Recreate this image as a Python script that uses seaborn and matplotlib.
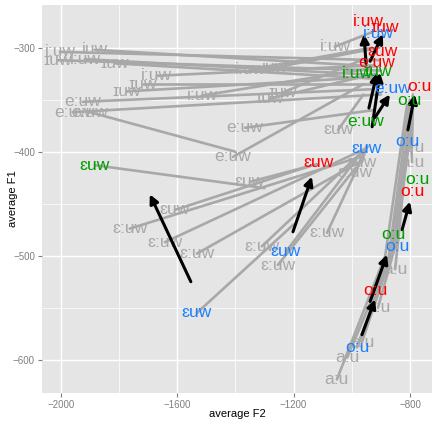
import numpy as np
import pandas as pd
import matplotlib
matplotlib.use("Agg")
import matplotlib.pyplot as plt
from matplotlib.ticker import MultipleLocator
import seaborn as sns

nan = np.nan

# ---- gray tokens: label at onset, path (onset -> optional mid -> offset) ----
gray_text = ["i:uw", "iuw", "ɪuw", "i:uw", "ɪuw", "i:uw", "ɪuw", "ɪuw", "i:uw",
             "e:uw", "e:uw", "e:uw", "i:uw", "iuw", "ɪuw", "ɪuw", "e:uw", "e:uw",
             "ɛuw", "i:uw", "ɛuw", "ɛ:uw", "ɛuw", "a:u", "a:u", "ɛuw", "ɛ:uw",
             "ɛ:uw", "ɛ:uw", "ɛ:uw", "ɛ:uw", "ɛ:uw", "a:u", "a:u", "a:u", "a:u", "a:u"]
gray_x0 = [-2003, -1883, -2010, -1917, -1814, -1670, -1718, -1773, -1515,
           -1924, -1959, -1900, -1350, -1264, -1281, -1237, -1367, -1408,
           -1350, -1058, -1047, -989, -965, -793, -793, -1608, -1763,
           -1642, -1532, -1085, -1309, -1254, -851, -910, -965, -1016, -1051]
gray_y0 = [-304, -302, -312, -311, -315, -327, -335, -342, -346,
           -352, -362, -362, -321, -319, -349, -343, -377, -405,
           -429, -299, -379, -420, -410, -396, -410, -456, -474,
           -487, -498, -478, -491, -509, -513, -550, -583, -598, -619]
gray_xm = [nan] * 32 + [-835, -850, -865, -875, -885]
gray_ym = [nan] * 32 + [-470, -490, -500, -505, -500]
gray_x1 = [-905, -920, -900, -935, -910, -925, -900, -915, -940,
           -935, -900, -1400, -930, -905, -920, -950, -925, -960,
           -1120, -930, -960, -950, -955, -790, -800, -1135, -970,
           -960, -975, -955, -945, -985, -800, -790, -795, -800, -810]
gray_y1 = [-312, -318, -322, -326, -330, -317, -335, -328, -320,
           -340, -345, -400, -300, -300, -325, -310, -360, -335,
           -412, -285, -345, -395, -400, -355, -365, -413, -405,
           -398, -410, -400, -395, -415, -365, -345, -360, -350, -355]

# extra gray paths leaving coloured means
extra_x0 = [-1883, -1532, -1226, -982, -982, -917]
extra_y0 = [-413, -555, -496, -588, -588, -533]
extra_xm = [nan, nan, nan, -870, -860, -850]
extra_ym = [nan, nan, nan, -505, -495, -490]
extra_x1 = [-1300, -1200, -965, -815, -800, -805]
extra_y1 = [-435, -470, -400, -400, -385, -395]

# ---- coloured group labels ----
col_text = ["i:uw", "ɪuw", "i:uw", "ɛuw", "e:uw", "i:uw", "ɪuw", "e:uw", "o:u",
            "o:u", "e:uw", "o:u", "ɛuw", "ɛuw", "ɛuw", "o:u", "o:u", "o:u",
            "o:u", "ɛuw", "o:u", "ɛuw", "o:u"]
col_group = ["red", "red", "blue", "red", "red", "green", "green", "blue", "red",
             "green", "green", "blue", "blue", "red", "green", "green", "red", "green",
             "blue", "blue", "red", "blue", "blue"]
col_x = [-944, -886, -910, -893, -913, -979, -910, -858, -769,
         -803, -951, -810, -948, -1116, -1883, -776, -793, -858,
         -844, -1226, -917, -1532, -982]
col_y = [-275, -281, -286, -304, -314, -325, -323, -339, -337,
         -351, -371, -390, -397, -410, -413, -427, -438, -480,
         -491, -496, -533, -555, -588]
palette = {"red": "#FF0000", "green": "#009E00", "blue": "#1A80FF"}

# ---- black arrows (mean onset -> mean offset) ----
arr_x0 = [-1553, -1202, -951, -937, -941, -930, -920, -807, -827, -937, -965]
arr_y0 = [-525, -477, -315, -313, -358, -376, -367, -379, -475, -544, -576]
arr_x1 = [-1694, -1137, -958, -893, -913, -903, -869, -783, -800, -879, -920]
arr_y1 = [-441, -424, -287, -287, -324, -324, -345, -345, -448, -499, -542]

sx = gray_x0 + extra_x0
sy = gray_y0 + extra_y0
mx = gray_xm + extra_xm
my = gray_ym + extra_ym
ex = gray_x1 + extra_x1
ey = gray_y1 + extra_y1
rows = []
for i in range(len(sx)):
    rows.append({"token": i, "F2": sx[i], "F1": sy[i]})
    if not np.isnan(mx[i]):
        rows.append({"token": i, "F2": mx[i], "F1": my[i]})
    rows.append({"token": i, "F2": ex[i], "F1": ey[i]})
paths = pd.DataFrame(rows)

sns.set_theme(style="darkgrid")
plt.rcParams["font.family"] = ["Liberation Sans", "DejaVu Sans"]

fig = plt.figure(figsize=(4.36, 4.23), dpi=100)
ax = fig.add_axes([0.096, 0.071, 0.895, 0.917])
ax.set_facecolor("#E5E5E5")

sns.lineplot(data=paths, x="F2", y="F1", units="token", estimator=None,
             sort=False, color="#A8A8A8", lw=1.9, ax=ax, legend=False)

for t, x, y in zip(gray_text, gray_x0, gray_y0):
    ax.text(x, y, t, color="#A8A8A8", fontsize=12.5, ha="center", va="center")

for i in range(len(arr_x0)):
    ax.annotate("", xy=(arr_x1[i], arr_y1[i]), xytext=(arr_x0[i], arr_y0[i]),
                arrowprops=dict(arrowstyle="-|>", color="black", lw=2.2,
                                mutation_scale=13, shrinkA=0, shrinkB=0))

for t, g, x, y in zip(col_text, col_group, col_x, col_y):
    ax.text(x, y, t, color=palette[g], fontsize=12.5, ha="center", va="center")

ax.set_xlim(-2065, -724)
ax.set_ylim(-632, -259)
ax.set_xticks([-2000, -1600, -1200, -800])
ax.set_yticks([-600, -500, -400, -300])
ax.xaxis.set_minor_locator(MultipleLocator(200))
ax.yaxis.set_minor_locator(MultipleLocator(50))
ax.grid(which="major", color="white", lw=1.0)
ax.grid(which="minor", color="white", lw=0.5)
ax.tick_params(which="major", length=3, width=0.8, color="#7F7F7F",
               labelsize=7, labelcolor="#7F7F7F", pad=2, bottom=True, left=True)
ax.tick_params(which="minor", length=0)
for s in ax.spines.values():
    s.set_visible(False)
ax.set_xlabel("average F2", fontsize=8, color="black")
ax.set_ylabel("average F1", fontsize=8, color="black")
ax.xaxis.set_label_coords(0.5, -0.041)
ax.yaxis.set_label_coords(-0.062, 0.5)

fig.savefig("out.png", dpi=100)
